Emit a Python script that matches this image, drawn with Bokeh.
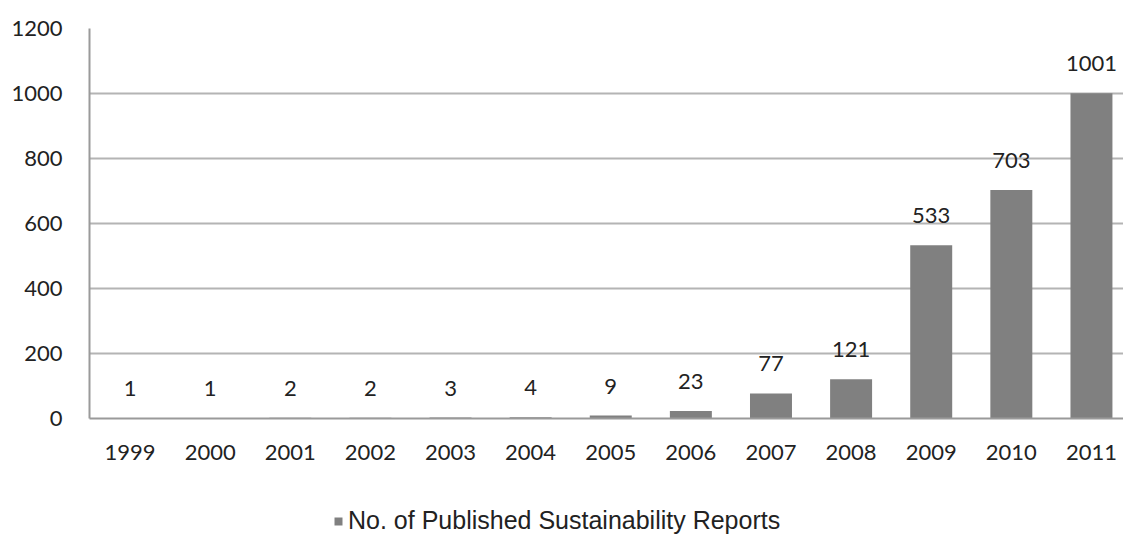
from bokeh.plotting import figure
from bokeh.layouts import column
from bokeh.models import (ColumnDataSource, Legend, LegendItem, FixedTicker,
                          Range1d, LabelSet)
from bokeh.core.properties import value
from bokeh.embed import file_html
from bokeh.resources import INLINE

years = ["1999", "2000", "2001", "2002", "2003", "2004", "2005",
         "2006", "2007", "2008", "2009", "2010", "2011"]
reports = [1, 1, 2, 2, 3, 4, 9, 23, 77, 121, 533, 703, 1001]
y_ticks = [0, 200, 400, 600, 800, 1000, 1200]

positions = list(range(len(years)))
source = ColumnDataSource(data=dict(
    pos=positions,
    count=reports,
    label=[str(v) for v in reports],
))

BAR_COLOR = "#808080"
TEXT_COLOR = "#222222"

p = figure(
    x_range=Range1d(-0.506, 12.4),
    y_range=Range1d(0, 1200),
    width=1123, height=470,
    output_backend="svg",
    toolbar_location=None,
    min_border_left=89, min_border_right=0,
    min_border_top=28, min_border_bottom=52,
    background_fill_color="white",
    border_fill_color="white",
    outline_line_color=None,
)

bars = p.vbar(x="pos", top="count", width=0.524, source=source,
              fill_color=BAR_COLOR, line_color=None)

labels = LabelSet(x="pos", y="count", text="label", source=source,
                  text_align="center", text_baseline="alphabetic",
                  y_offset=22, text_font=value("Lato"),
                  text_font_size="22px", text_color=TEXT_COLOR)
p.add_layout(labels)

# grid and axes
p.xgrid.grid_line_color = None
p.ygrid.grid_line_color = "#b4b4b4"
p.ygrid.grid_line_width = 2
p.yaxis.ticker = FixedTicker(ticks=y_ticks)
p.yaxis.axis_line_color = "#9a9a9a"
p.yaxis.axis_line_width = 2
p.yaxis.major_tick_line_color = None
p.yaxis.minor_tick_line_color = None
p.yaxis.major_label_standoff = 21
p.yaxis.major_label_text_font = "Lato"
p.yaxis.major_label_text_font_size = "22px"
p.yaxis.major_label_text_color = TEXT_COLOR

p.xaxis.ticker = FixedTicker(ticks=positions)
p.xaxis.major_label_overrides = {i: y for i, y in enumerate(years)}
p.xaxis.axis_line_color = "#9a9a9a"
p.xaxis.axis_line_width = 2
p.xaxis.major_tick_line_color = None
p.xaxis.minor_tick_line_color = None
p.xaxis.major_label_standoff = 20
p.xaxis.major_label_text_font = "Lato"
p.xaxis.major_label_text_font_size = "22px"
p.xaxis.major_label_text_color = TEXT_COLOR

# key strip underneath the chart
k = figure(
    x_range=Range1d(0, 1), y_range=Range1d(0, 1),
    width=1123, height=65,
    output_backend="svg",
    toolbar_location=None,
    min_border=0,
    outline_line_color=None,
    background_fill_color="white",
    border_fill_color="white",
)
k.axis.visible = False
k.grid.grid_line_color = None
# zero-height swatch renderer; only its legend glyph shows
key_glyph = k.vbar(x=[0.5], top=[0], bottom=[0], width=0.1,
                   fill_color=BAR_COLOR, line_color=None)

legend = Legend(
    items=[LegendItem(label="No. of Published Sustainability Reports",
                      renderers=[key_glyph])],
    orientation="horizontal",
    location=(244, 0),
    border_line_color=None,
    background_fill_alpha=0,
    label_text_font="Liberation Sans",
    label_text_font_size="25px",
    label_text_color=TEXT_COLOR,
    glyph_width=10, glyph_height=10,
    label_standoff=5,
    margin=0,
    padding=0,
)
k.add_layout(legend)

layout = column(p, k, spacing=0)

html = file_html(layout, INLINE)
open("out.html", "w").write(html)
